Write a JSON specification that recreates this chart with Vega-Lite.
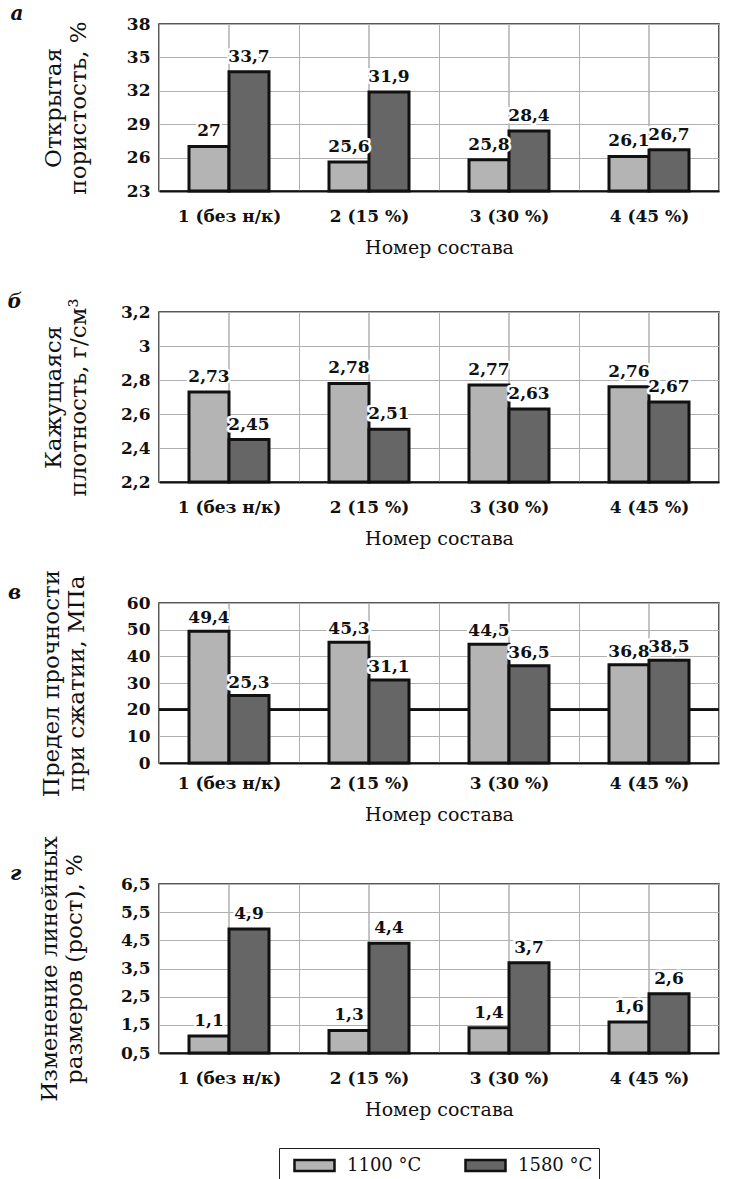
{
  "$schema": "https://vega.github.io/schema/vega-lite/v6.json",
  "padding": {"top": 3, "left": 6, "right": 5, "bottom": 5},
  "background": "white",
  "data": {"values": [
    {"panel": "a", "group": "1 (без н/к)", "temp": "1100 °C", "value": 27},
    {"panel": "a", "group": "1 (без н/к)", "temp": "1580 °C", "value": 33.7},
    {"panel": "a", "group": "2 (15 %)", "temp": "1100 °C", "value": 25.6},
    {"panel": "a", "group": "2 (15 %)", "temp": "1580 °C", "value": 31.9},
    {"panel": "a", "group": "3 (30 %)", "temp": "1100 °C", "value": 25.8},
    {"panel": "a", "group": "3 (30 %)", "temp": "1580 °C", "value": 28.4},
    {"panel": "a", "group": "4 (45 %)", "temp": "1100 °C", "value": 26.1},
    {"panel": "a", "group": "4 (45 %)", "temp": "1580 °C", "value": 26.7},
    {"panel": "b", "group": "1 (без н/к)", "temp": "1100 °C", "value": 2.73},
    {"panel": "b", "group": "1 (без н/к)", "temp": "1580 °C", "value": 2.45},
    {"panel": "b", "group": "2 (15 %)", "temp": "1100 °C", "value": 2.78},
    {"panel": "b", "group": "2 (15 %)", "temp": "1580 °C", "value": 2.51},
    {"panel": "b", "group": "3 (30 %)", "temp": "1100 °C", "value": 2.77},
    {"panel": "b", "group": "3 (30 %)", "temp": "1580 °C", "value": 2.63},
    {"panel": "b", "group": "4 (45 %)", "temp": "1100 °C", "value": 2.76},
    {"panel": "b", "group": "4 (45 %)", "temp": "1580 °C", "value": 2.67},
    {"panel": "c", "group": "1 (без н/к)", "temp": "1100 °C", "value": 49.4},
    {"panel": "c", "group": "1 (без н/к)", "temp": "1580 °C", "value": 25.3},
    {"panel": "c", "group": "2 (15 %)", "temp": "1100 °C", "value": 45.3},
    {"panel": "c", "group": "2 (15 %)", "temp": "1580 °C", "value": 31.1},
    {"panel": "c", "group": "3 (30 %)", "temp": "1100 °C", "value": 44.5},
    {"panel": "c", "group": "3 (30 %)", "temp": "1580 °C", "value": 36.5},
    {"panel": "c", "group": "4 (45 %)", "temp": "1100 °C", "value": 36.8},
    {"panel": "c", "group": "4 (45 %)", "temp": "1580 °C", "value": 38.5},
    {"panel": "d", "group": "1 (без н/к)", "temp": "1100 °C", "value": 1.1},
    {"panel": "d", "group": "1 (без н/к)", "temp": "1580 °C", "value": 4.9},
    {"panel": "d", "group": "2 (15 %)", "temp": "1100 °C", "value": 1.3},
    {"panel": "d", "group": "2 (15 %)", "temp": "1580 °C", "value": 4.4},
    {"panel": "d", "group": "3 (30 %)", "temp": "1100 °C", "value": 1.4},
    {"panel": "d", "group": "3 (30 %)", "temp": "1580 °C", "value": 3.7},
    {"panel": "d", "group": "4 (45 %)", "temp": "1100 °C", "value": 1.6},
    {"panel": "d", "group": "4 (45 %)", "temp": "1580 °C", "value": 2.6}
  ]},
  "bounds": "flush",
  "spacing": 121,
  "resolve": {"scale": {"color": "shared"}},
  "vconcat": [
    {
      "width": 560, "height": 167,
      "title": {"text": "а", "orient": "left", "anchor": "end", "angle": 0, "frame": "group", "align": "right", "baseline": "bottom", "offset": 6},
      "transform": [{"filter": "datum.panel === 'a'"}],
      "encoding": {"y": {"field": "value", "type": "quantitative", "scale": {"domain": [23, 38], "zero": false, "nice": false}, "axis": {"values": [23, 26, 29, 32, 35, 38], "title": ["Открытая", "пористость, %"], "titlePadding": 36}}},
      "layer": [
        {"mark": {"type": "rule", "color": "#b0b0b0", "strokeWidth": 1}, "encoding": {"x": {"field": "group", "type": "nominal", "title": "Номер состава", "scale": {"paddingInner": 0, "paddingOuter": 0}}, "y": {"datum": 23}, "y2": {"datum": 38}}},
        {"mark": {"type": "bar", "stroke": "#111", "strokeWidth": 3},
         "encoding": {
           "x": {"field": "group", "type": "nominal"},
           "xOffset": {"field": "temp", "type": "nominal", "scale": {"paddingInner": 0, "paddingOuter": 0.75}},
           "y2": {"datum": 23},
           "color": {"field": "temp", "type": "nominal", "scale": {"domain": ["1100 °C", "1580 °C"], "range": ["#b4b4b4", "#666666"]}, "legend": {"title": null}}
         }},
        {"mark": {"type": "text", "stroke": "white", "strokeWidth": 5, "strokeJoin": "round", "fontWeight": "bold", "fontSize": 17, "baseline": "alphabetic", "dy": -10, "color": "white"},
         "encoding": {"x": {"field": "group", "type": "nominal"}, "xOffset": {"field": "temp", "type": "nominal"}, "text": {"field": "value", "type": "quantitative", "format": ".3~g"}}},
        {"mark": {"type": "text", "fontWeight": "bold", "fontSize": 17, "baseline": "alphabetic", "dy": -10, "color": "#111"},
         "encoding": {"x": {"field": "group", "type": "nominal"}, "xOffset": {"field": "temp", "type": "nominal"}, "text": {"field": "value", "type": "quantitative", "format": ".3~g"}}}
      ]
    },
    {
      "width": 560, "height": 170,
      "title": {"text": "б", "orient": "left", "anchor": "end", "angle": 0, "frame": "group", "align": "right", "baseline": "bottom", "offset": 6},
      "transform": [{"filter": "datum.panel === 'b'"}],
      "encoding": {"y": {"field": "value", "type": "quantitative", "scale": {"domain": [2.2, 3.2], "zero": false, "nice": false}, "axis": {"values": [2.2, 2.4, 2.6, 2.8, 3, 3.2], "title": ["Кажущаяся", "плотность, г/см³"], "titlePadding": 30}}},
      "layer": [
        {"mark": {"type": "rule", "color": "#b0b0b0", "strokeWidth": 1}, "encoding": {"x": {"field": "group", "type": "nominal", "title": "Номер состава", "scale": {"paddingInner": 0, "paddingOuter": 0}}, "y": {"datum": 2.2}, "y2": {"datum": 3.2}}},
        {"mark": {"type": "bar", "stroke": "#111", "strokeWidth": 3},
         "encoding": {
           "x": {"field": "group", "type": "nominal"},
           "xOffset": {"field": "temp", "type": "nominal", "scale": {"paddingInner": 0, "paddingOuter": 0.75}},
           "y2": {"datum": 2.2},
           "color": {"field": "temp", "type": "nominal", "scale": {"domain": ["1100 °C", "1580 °C"], "range": ["#b4b4b4", "#666666"]}, "legend": {"title": null}}
         }},
        {"mark": {"type": "text", "stroke": "white", "strokeWidth": 5, "strokeJoin": "round", "fontWeight": "bold", "fontSize": 17, "baseline": "alphabetic", "dy": -10, "color": "white"},
         "encoding": {"x": {"field": "group", "type": "nominal"}, "xOffset": {"field": "temp", "type": "nominal"}, "text": {"field": "value", "type": "quantitative", "format": ".3~g"}}},
        {"mark": {"type": "text", "fontWeight": "bold", "fontSize": 17, "baseline": "alphabetic", "dy": -10, "color": "#111"},
         "encoding": {"x": {"field": "group", "type": "nominal"}, "xOffset": {"field": "temp", "type": "nominal"}, "text": {"field": "value", "type": "quantitative", "format": ".3~g"}}}
      ]
    },
    {
      "width": 560, "height": 160,
      "title": {"text": "в", "orient": "left", "anchor": "end", "angle": 0, "frame": "group", "align": "right", "baseline": "bottom", "offset": 6},
      "transform": [{"filter": "datum.panel === 'c'"}],
      "encoding": {"y": {"field": "value", "type": "quantitative", "scale": {"domain": [0, 60], "nice": false}, "axis": {"values": [0, 10, 20, 30, 40, 50, 60], "title": ["Предел прочности", "при сжатии, МПа"], "titlePadding": 38}}},
      "layer": [
        {"mark": {"type": "rule", "color": "#b0b0b0", "strokeWidth": 1}, "encoding": {"x": {"field": "group", "type": "nominal", "title": "Номер состава", "scale": {"paddingInner": 0, "paddingOuter": 0}, "axis": {"labelPadding": 12}}, "y": {"datum": 0}, "y2": {"datum": 60}}},
        {"mark": {"type": "rule", "color": "#111", "strokeWidth": 2}, "encoding": {"y": {"datum": 20}}},
        {"mark": {"type": "bar", "stroke": "#111", "strokeWidth": 3},
         "encoding": {
           "x": {"field": "group", "type": "nominal"},
           "xOffset": {"field": "temp", "type": "nominal", "scale": {"paddingInner": 0, "paddingOuter": 0.75}},
           "y2": {"datum": 0},
           "color": {"field": "temp", "type": "nominal", "scale": {"domain": ["1100 °C", "1580 °C"], "range": ["#b4b4b4", "#666666"]}, "legend": {"title": null}}
         }},
        {"mark": {"type": "text", "stroke": "white", "strokeWidth": 5, "strokeJoin": "round", "fontWeight": "bold", "fontSize": 17, "baseline": "alphabetic", "dy": -8, "color": "white"},
         "encoding": {"x": {"field": "group", "type": "nominal"}, "xOffset": {"field": "temp", "type": "nominal"}, "text": {"field": "value", "type": "quantitative", "format": ".3~g"}}},
        {"mark": {"type": "text", "fontWeight": "bold", "fontSize": 17, "baseline": "alphabetic", "dy": -8, "color": "#111"},
         "encoding": {"x": {"field": "group", "type": "nominal"}, "xOffset": {"field": "temp", "type": "nominal"}, "text": {"field": "value", "type": "quantitative", "format": ".3~g"}}}
      ]
    },
    {
      "width": 560, "height": 169,
      "title": {"text": "г", "orient": "left", "anchor": "end", "angle": 0, "frame": "group", "align": "right", "baseline": "bottom", "offset": 6},
      "transform": [{"filter": "datum.panel === 'd'"}],
      "encoding": {"y": {"field": "value", "type": "quantitative", "scale": {"domain": [0.5, 6.5], "zero": false, "nice": false}, "axis": {"values": [0.5, 1.5, 2.5, 3.5, 4.5, 5.5, 6.5], "title": ["Изменение линейных", "размеров (рост), %"], "titlePadding": 34}}},
      "layer": [
        {"mark": {"type": "rule", "color": "#b0b0b0", "strokeWidth": 1}, "encoding": {"x": {"field": "group", "type": "nominal", "title": "Номер состава", "scale": {"paddingInner": 0, "paddingOuter": 0}}, "y": {"datum": 0.5}, "y2": {"datum": 6.5}}},
        {"mark": {"type": "bar", "stroke": "#111", "strokeWidth": 3},
         "encoding": {
           "x": {"field": "group", "type": "nominal"},
           "xOffset": {"field": "temp", "type": "nominal", "scale": {"paddingInner": 0, "paddingOuter": 0.75}},
           "y2": {"datum": 0.5},
           "color": {"field": "temp", "type": "nominal", "scale": {"domain": ["1100 °C", "1580 °C"], "range": ["#b4b4b4", "#666666"]}, "legend": {"title": null}}
         }},
        {"mark": {"type": "text", "stroke": "white", "strokeWidth": 5, "strokeJoin": "round", "fontWeight": "bold", "fontSize": 17, "baseline": "alphabetic", "dy": -10, "color": "white"},
         "encoding": {"x": {"field": "group", "type": "nominal"}, "xOffset": {"field": "temp", "type": "nominal"}, "text": {"field": "value", "type": "quantitative", "format": ".3~g"}}},
        {"mark": {"type": "text", "fontWeight": "bold", "fontSize": 17, "baseline": "alphabetic", "dy": -10, "color": "#111"},
         "encoding": {"x": {"field": "group", "type": "nominal"}, "xOffset": {"field": "temp", "type": "nominal"}, "text": {"field": "value", "type": "quantitative", "format": ".3~g"}}}
      ]
    }
  ],
  "config": {
    "locale": {"number": {"decimal": ",", "thousands": " ", "grouping": [3], "currency": ["", ""]}},
    "font": "DejaVu Serif",
    "view": {"stroke": "#222", "strokeWidth": 1.5},
    "text": {"font": "DejaVu Serif"},
    "axis": {"labelFont": "DejaVu Serif", "labelFontWeight": "bold", "labelFontSize": 17, "labelColor": "#111", "titleFont": "DejaVu Serif", "titleFontWeight": "normal", "titleFontSize": 23, "titleColor": "#111", "gridColor": "#b0b0b0", "gridWidth": 1, "gridOpacity": 1, "ticks": false, "domain": false, "labelOverlap": false},
    "axisX": {"labelAngle": 0, "labelPadding": 17, "titlePadding": 14, "titleFontSize": 19, "tickBand": "extent", "grid": true, "domain": true, "domainColor": "#111", "domainWidth": 2},
    "axisY": {"labelPadding": 9, "titleLineHeight": 25, "grid": true, "format": ".3~g", "labelFlush": false},
    "title": {"font": "DejaVu Serif", "fontSize": 20, "fontWeight": "bold", "fontStyle": "italic", "color": "#111"},
    "legend": {"orient": "bottom", "direction": "horizontal", "layout": {"bottom": {"anchor": "middle"}}, "labelFont": "DejaVu Serif", "labelFontSize": 18, "labelColor": "#111", "symbolType": "M-2,-0.55H2V0.55H-2Z", "symbolSize": 400, "symbolStrokeColor": "#111", "symbolStrokeWidth": 2.5, "symbolOpacity": 1, "symbolOffset": 18, "strokeColor": "#222", "padding": 6, "columnPadding": 34, "labelOffset": 21, "offset": 28}
  }
}
